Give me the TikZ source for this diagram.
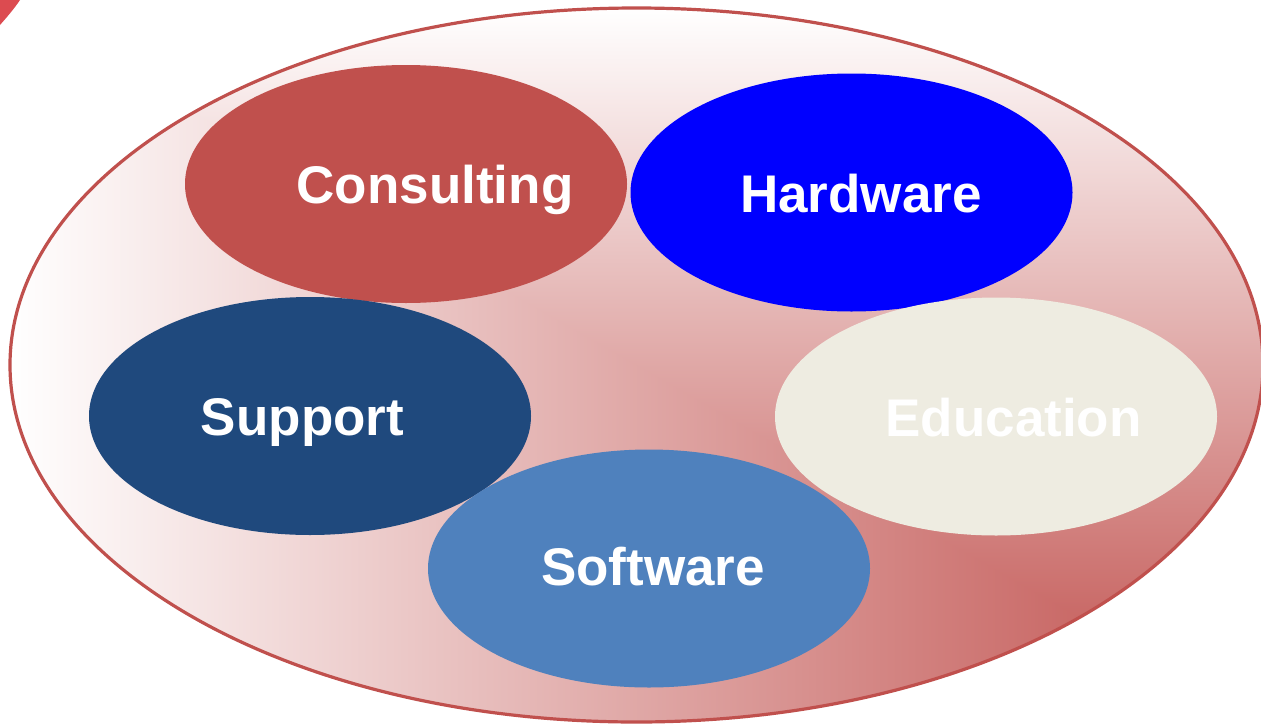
\documentclass[tikz,border=0pt]{standalone}
\usepackage{fontspec}
\setmainfont{Liberation Sans}
\usetikzlibrary{shapes.geometric}
\definecolor{cred}{HTML}{C0504D}
\definecolor{cblue}{HTML}{0000FF}
\definecolor{cnavy}{HTML}{1F497D}
\definecolor{clight}{HTML}{EEECE1}
\definecolor{csky}{HTML}{4F81BD}
\definecolor{ccorner}{HTML}{DC4B50}
\tikzset{
  blob/.style={ellipse, minimum width=442pt, minimum height=238pt, inner sep=0pt, draw=none},
  lbl/.style={anchor=base, text=white, inner sep=0pt, font=\fontsize{53}{60}\selectfont\bfseries}
}
\begin{document}
\begin{tikzpicture}[x=1pt,y=-1pt]
\useasboundingbox (0,0) rectangle (1261,726);
% corner fragment
\fill[ccorner] (0,0) -- (20,0) .. controls (14,9) and (7,17) .. (0,25) -- cycle;
% big ellipse with rectangular gradient from bottom-right
\coordinate (bigc) at (636.5,365);
\begin{scope}
  \clip (bigc) ellipse [x radius=626.5, y radius=357];
  \shade[left color=white, right color=cred] (10,8) rectangle (1263,722);
  \clip (10,8) -- (1263,8) -- (1263,722) -- cycle;
  \shade[top color=white, bottom color=cred] (10,8) rectangle (1263,722);
\end{scope}
\draw[cred, line width=3.2pt] (bigc) ellipse [x radius=626.5, y radius=357];
% small ellipses
\node[blob, fill=cred]   (cons) at (406,184) {};
\node[blob, fill=cblue]  (hard) at (851.5,192.5) {};
\node[blob, fill=cnavy]  (supp) at (310,416) {};
\node[blob, fill=clight] (educ) at (996,416.5) {};
\node[blob, fill=csky]   (soft) at (649,568.5) {};
% labels
\node[lbl] (consT) at (435,203) {Consulting};
\node[lbl] (hardT) at (861,212) {Hardware};
\node[lbl] (suppT) at (302.5,435) {Support};
\node[lbl] (educT) at (1013.5,436) {Education};
\node[lbl] (softT) at (653,585) {Software};
\end{tikzpicture}
\end{document}
